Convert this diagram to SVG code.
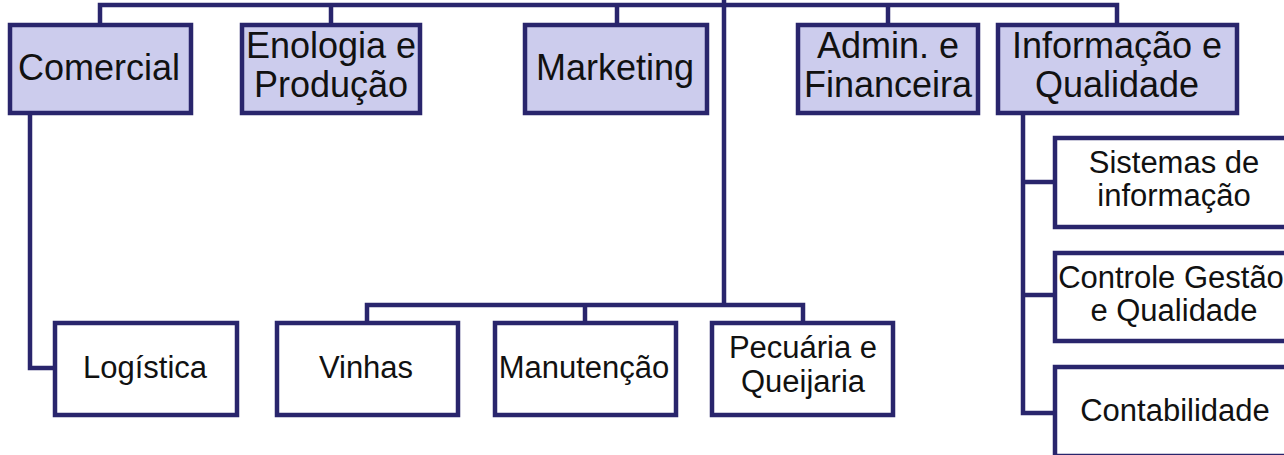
<svg xmlns="http://www.w3.org/2000/svg" width="1284" height="455" viewBox="0 0 1284 455">
<style>
.top rect{fill:#cccced;stroke:#29256c;stroke-width:4.5}
.sub rect{fill:#ffffff;stroke:#29256c;stroke-width:4.5}
text{font-family:"Liberation Sans",Arial,sans-serif;fill:#111;text-anchor:middle}
.top text{font-size:36px}
.sub text{font-size:31px}
#connectors path{fill:none;stroke:#29256c;stroke-width:4.5}
</style>
<rect width="1284" height="455" fill="#ffffff"/>
<g id="connectors">
<path d="M100,25 V5 H1117 V25"/>
<path d="M331,5 V25"/>
<path d="M617,5 V25"/>
<path d="M888,5 V25"/>
<path d="M724,0 V305"/>
<path d="M367,323 V305 H803 V323"/>
<path d="M585,305 V323"/>
<path d="M30,113 V368 H55"/>
<path d="M1023,113 V413 H1055"/>
<path d="M1023,182 H1055"/>
<path d="M1023,295 H1055"/>
</g>
<g id="comercial" class="top"><rect x="10" y="25" width="181" height="88"/><text x="99" y="80">Comercial</text></g>
<g id="enologia" class="top"><rect x="242" y="25" width="178" height="88"/><text x="331" y="58">Enologia e</text><text x="331" y="97">Produção</text></g>
<g id="marketing" class="top"><rect x="525" y="25" width="182" height="88"/><text x="615" y="80">Marketing</text></g>
<g id="admin" class="top"><rect x="798" y="25" width="180" height="88"/><text x="888" y="58">Admin. e</text><text x="888" y="97">Financeira</text></g>
<g id="informacao" class="top"><rect x="998" y="25" width="239" height="88"/><text x="1117" y="58">Informação e</text><text x="1117" y="97">Qualidade</text></g>
<g id="logistica" class="sub"><rect x="55" y="323" width="182" height="92"/><text x="145" y="378">Logística</text></g>
<g id="vinhas" class="sub"><rect x="277" y="323" width="181" height="92"/><text x="366" y="378">Vinhas</text></g>
<g id="manutencao" class="sub"><rect x="495" y="323" width="181" height="92"/><text x="584" y="378">Manutenção</text></g>
<g id="pecuaria" class="sub"><rect x="712" y="323" width="181" height="92"/><text x="803" y="358">Pecuária e</text><text x="803" y="392">Queijaria</text></g>
<g id="sistemas" class="sub"><rect x="1055" y="138" width="238" height="89"/><text x="1174" y="173">Sistemas de</text><text x="1174" y="206">informação</text></g>
<g id="controle" class="sub"><rect x="1055" y="253" width="238" height="88"/><text x="1171" y="288">Controle Gestão</text><text x="1174" y="321">e Qualidade</text></g>
<g id="contabilidade" class="sub"><rect x="1055" y="367" width="238" height="89"/><text x="1175" y="421">Contabilidade</text></g>
</svg>
